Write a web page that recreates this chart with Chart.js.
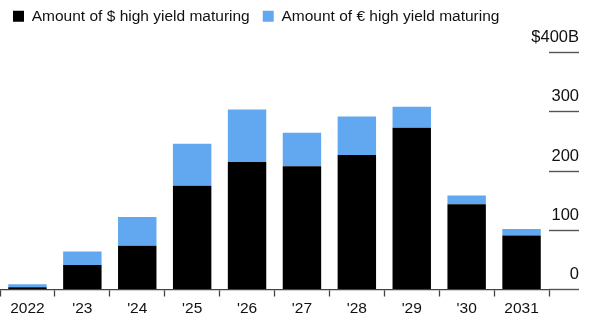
<!DOCTYPE html>
<html>
<head>
<meta charset="utf-8">
<script src="https://cdn.jsdelivr.net/npm/chart.js@4.4.1/dist/chart.umd.min.js"></script>
<style>
  html, body { margin: 0; padding: 0; background: #fff; }
  #wrap { width: 600px; height: 323px; }
</style>
</head>
<body>
<div id="wrap"><canvas id="chartCanvas"></canvas></div>
<script>
// values in $ billions
const years = ["2022", "'23", "'24", "'25", "'26", "'27", "'28", "'29", "'30", "2031"];
const usdMaturing = [4, 41.5, 74, 175, 215, 208, 227, 273, 144, 91];
const eurMaturing = [5, 22.5, 48.5, 71, 89, 56.5, 65, 35.5, 14.5, 11];
const yTicks = [0, 100, 200, 300, 400];
const yTickLabels = ["0", "100", "200", "300", "$400B"];

Chart.defaults.font.family = "'Liberation Sans', Arial, sans-serif";
Chart.defaults.color = "#111";

// push the plot down below the legend
const legendSpacing = {
  id: "legendSpacing",
  beforeInit(chart) {
    const fit = chart.legend.fit;
    chart.legend.fit = function() {
      fit.call(this);
      this.height = 57;
    };
  }
};

const ctx = document.getElementById("chartCanvas").getContext("2d");

new Chart(ctx, {
  type: "bar",
  data: {
    labels: years,
    datasets: [
      {
        label: "Amount of $ high yield maturing",
        data: usdMaturing,
        backgroundColor: "#000000",
        borderWidth: 0,
        categoryPercentage: 0.7,
        barPercentage: 1
      },
      {
        label: "Amount of € high yield maturing",
        data: eurMaturing,
        backgroundColor: "#62a8f0",
        borderWidth: 0,
        categoryPercentage: 0.7,
        barPercentage: 1
      }
    ]
  },
  options: {
    responsive: true,
    maintainAspectRatio: false,
    animation: false,
    layout: { padding: { top: -4.5, left: 0, right: 0, bottom: 1.9 } },
    plugins: {
      tooltip: { enabled: false },
      legend: {
        position: "top",
        align: "start",
        labels: {
          boxWidth: 11,
          boxHeight: 11,
          padding: 13,
          color: "#111",
          font: { size: 15.5 }
        }
      }
    },
    scales: {
      x: {
        stacked: true,
        grid: {
          drawOnChartArea: false,
          drawTicks: true,
          tickLength: 7,
          tickColor: "#444",
          tickWidth: 1.3
        },
        border: { display: true, color: "#444", width: 1.3 },
        ticks: {
          padding: 3,
          color: "#111",
          font: { size: 15.5 },
          maxRotation: 0
        }
      },
      y: {
        stacked: true,
        position: "right",
        min: 0,
        max: 400,
        afterBuildTicks: scale => {
          scale.ticks = yTicks.map(v => ({ value: v }));
        },
        // short tick marks on the right, labels sit above them
        afterFit: scale => {
          scale.width = 51;
          scale.paddingTop = 0;
          scale.paddingBottom = 0;
        },
        grid: {
          drawOnChartArea: false,
          drawTicks: true,
          tickLength: 30,
          tickColor: "#555",
          tickWidth: 1.4
        },
        border: { display: false },
        ticks: {
          mirror: true,
          padding: 30,
          crossAlign: "near",
          labelOffset: -15,
          color: "#111",
          font: { size: 16.5 },
          callback: value => yTickLabels[yTicks.indexOf(value)]
        }
      }
    }
  },
  plugins: [legendSpacing]
});
</script>
</body>
</html>
